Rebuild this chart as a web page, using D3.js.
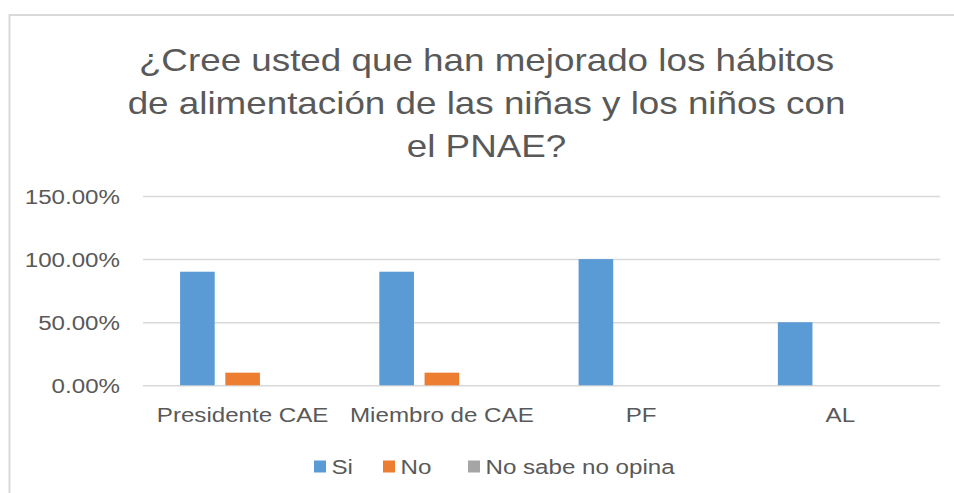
<!DOCTYPE html>
<html><head><meta charset="utf-8">
<script src="https://cdn.jsdelivr.net/npm/d3@7"></script>
<style>html,body{margin:0;padding:0;background:#fff;overflow:hidden}</style>
</head><body>
<svg id="c" width="954" height="493"></svg>
<script>
const titleLines = ["¿Cree usted que han mejorado los hábitos", "de alimentación de las niñas y los niños con", "el PNAE?"];
const categories = ["Presidente CAE", "Miembro de CAE", "PF", "AL"];
const seriesNames = ["Si", "No", "No sabe no opina"];
const siValues = [0.90, 0.90, 1.00, 0.50];
const noValues = [0.10, 0.10, 0.00, 0.00];
const nsnoValues = [0.00, 0.00, 0.00, 0.00];
const yTicks = [0, 0.5, 1.0, 1.5];
const colors = ["#5B9BD5", "#ED7D31", "#A5A5A5"];

const series = [siValues, noValues, nsnoValues];
const svg = d3.select("#c");
const FONT = "'Liberation Sans', Arial, sans-serif";
const TEXT = "#595959";
const SX = 1.15;

// chart border
svg.append("path").attr("d", "M9.5,1000 V15 H1000").attr("fill","none").attr("stroke","#D9D9D9").attr("stroke-width",2);

const m = {left:143, right:940, top:196, bottom:385.3};
const x0 = d3.scaleBand().domain(categories).range([m.left, m.right]).paddingInner(0).paddingOuter(0);
const x1 = d3.scaleBand().domain(seriesNames).range([0, x0.bandwidth()]).paddingInner(0.2345).paddingOuter(0.82);
const y = d3.scaleLinear().domain([0, 1.5]).range([m.bottom, m.top]);

function stretchedText(g, x, yy, txt, size, anchor){
  return g.append("text")
    .attr("transform", `translate(${x},${yy}) scale(${SX},1)`)
    .attr("text-anchor", anchor)
    .attr("font-family", FONT).attr("font-size", size).attr("fill", TEXT)
    .text(txt);
}

// title
const tg = svg.append("g");
const titleBase = [71, 114, 157];
titleLines.forEach((t,i)=> stretchedText(tg, 486.5, titleBase[i], t, 32, "middle"));

// gridlines + y axis
const yAxis = d3.axisLeft(y).tickValues(yTicks).tickSize(-(m.right - m.left)).tickPadding(0)
  .tickFormat(d => d3.format(".2%")(d));
const ga = svg.append("g").attr("transform", `translate(${m.left},0)`).call(yAxis);
ga.select(".domain").remove();
ga.selectAll(".tick line").attr("stroke", "#D9D9D9").attr("stroke-width", 1.5);
ga.selectAll(".tick text").each(function(d){
  const t = d3.select(this);
  t.attr("x", null).attr("dy", null)
   .attr("transform", `translate(${120 - m.left},7.5) scale(${SX},1)`)
   .attr("text-anchor","end")
   .attr("font-family", FONT).attr("font-size", 21).attr("fill", TEXT);
});

// bars
const gb = svg.append("g");
series.forEach((vals, si) => {
  gb.selectAll(null).data(vals.map((v,i)=>({v, c:categories[i]}))).join("rect")
    .attr("x", d => x0(d.c) + x1(seriesNames[si]))
    .attr("y", d => y(d.v))
    .attr("width", x1.bandwidth())
    .attr("height", d => y(0) - y(d.v))
    .attr("fill", colors[si]);
});

// x axis labels
const xAxis = d3.axisBottom(x0).tickSize(0).tickPadding(0);
const gx = svg.append("g").attr("transform", `translate(0,${m.bottom})`).call(xAxis);
gx.select(".domain").remove();
gx.selectAll(".tick text").each(function(d){
  d3.select(this).attr("y", null).attr("dy", null)
    .attr("transform", `translate(0,36.5) scale(${SX},1)`)
    .attr("text-anchor","middle")
    .attr("font-family", FONT).attr("font-size", 21).attr("fill", TEXT);
});

// legend
const lg = svg.append("g");
const legX = [314, 383, 468];
seriesNames.forEach((n,i)=>{
  lg.append("rect").attr("x", legX[i]).attr("y", 460.5).attr("width", 12).attr("height", 12).attr("fill", colors[i]);
  stretchedText(lg, legX[i] + 17.5, 473.5, n, 21, "start");
});
</script>
</body></html>
